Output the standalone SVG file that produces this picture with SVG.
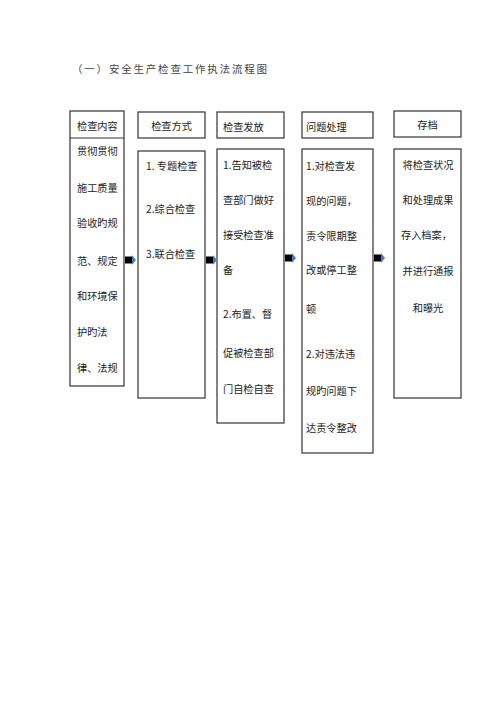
<svg xmlns="http://www.w3.org/2000/svg" width="500" height="707" viewBox="0 0 500 707">
<style>
.box{fill:#fff;stroke:#333;stroke-width:1.2}
.t{font-family:"Noto Sans CJK SC","Noto Sans",sans-serif;font-size:10.2px;fill:#222;dominant-baseline:central}
.c{text-anchor:middle}
.title{font-family:"Noto Sans CJK SC",sans-serif;font-size:10.5px;fill:#444;letter-spacing:1.8px;dominant-baseline:central}
.ab{fill:#000}
.at{fill:#4a7bc0}
</style>
<rect width="500" height="707" fill="#fff"/>
<text class="title" x="72" y="68">（一）安全生产检查工作执法流程图</text>

<g id="node-content">
<rect class="box" x="70" y="111" width="54" height="275"/>
<line x1="70" y1="138" x2="124" y2="138" stroke="#333" stroke-width="1.2"/>
<text class="t" x="77" y="125">检查内容</text>
<text class="t" x="77" y="150">贯彻贯彻</text>
<text class="t" x="77" y="187">施工质量</text>
<text class="t" x="77" y="222">验收旳规</text>
<text class="t" x="77" y="260">范、规定</text>
<text class="t" x="77" y="295">和环境保</text>
<text class="t" x="77" y="331">护旳法</text>
<text class="t" x="77" y="367">律、法规</text>
</g>

<g id="node-method">
<rect class="box" x="138" y="112" width="67" height="26"/>
<text class="t c" x="171.5" y="125">检查方式</text>
<rect class="box" x="138" y="151" width="67" height="247"/>
<text class="t" x="146" y="165">1. 专题检查</text>
<text class="t" x="146" y="208">2.综合检查</text>
<text class="t" x="146" y="253">3.联合检查</text>
</g>

<g id="node-issue">
<rect class="box" x="217" y="112" width="67" height="26"/>
<text class="t" x="223" y="126">检查发放</text>
<rect class="box" x="217" y="149" width="67" height="274"/>
<text class="t" x="223" y="164">1.告知被检</text>
<text class="t" x="223" y="199">查部门做好</text>
<text class="t" x="223" y="234">接受检查准</text>
<text class="t" x="223" y="269">备</text>
<text class="t" x="223" y="313">2.布置、督</text>
<text class="t" x="223" y="352">促被检查部</text>
<text class="t" x="223" y="388">门自检自查</text>
</g>

<g id="node-handle">
<rect class="box" x="302" y="112" width="71" height="26"/>
<text class="t" x="306" y="126">问题处理</text>
<rect class="box" x="302" y="149" width="71" height="304"/>
<text class="t" x="306" y="165">1.对检查发</text>
<text class="t" x="306" y="200">现的问题，</text>
<text class="t" x="306" y="235">责令限期整</text>
<text class="t" x="306" y="269">改或停工整</text>
<text class="t" x="306" y="308">顿</text>
<text class="t" x="306" y="353">2.对违法违</text>
<text class="t" x="306" y="390">规旳问题下</text>
<text class="t" x="306" y="427">达责令整改</text>
</g>

<g id="node-archive">
<rect class="box" x="394" y="111" width="67" height="26"/>
<text class="t c" x="427.5" y="124">存档</text>
<rect class="box" x="394" y="149" width="67" height="249"/>
<text class="t c" x="428" y="164">将检查状况</text>
<text class="t c" x="428" y="199">和处理成果</text>
<text class="t" x="401" y="234">存入档案，</text>
<text class="t c" x="428" y="270">并进行通报</text>
<text class="t c" x="428" y="307">和曝光</text>
</g>

<g id="connectors">
<rect class="ab" x="125" y="256.5" width="7" height="7"/>
<polygon class="at" points="132,255 136,260 132,265"/>
<rect class="ab" x="206" y="256.5" width="7" height="7"/>
<polygon class="at" points="213,255 217,260 213,265"/>
<rect class="ab" x="285" y="254.5" width="7" height="7"/>
<polygon class="at" points="292,253 296,258 292,263"/>
<rect class="ab" x="374" y="254.5" width="7" height="7"/>
<polygon class="at" points="381,253 385,258 381,263"/>
</g>
</svg>
